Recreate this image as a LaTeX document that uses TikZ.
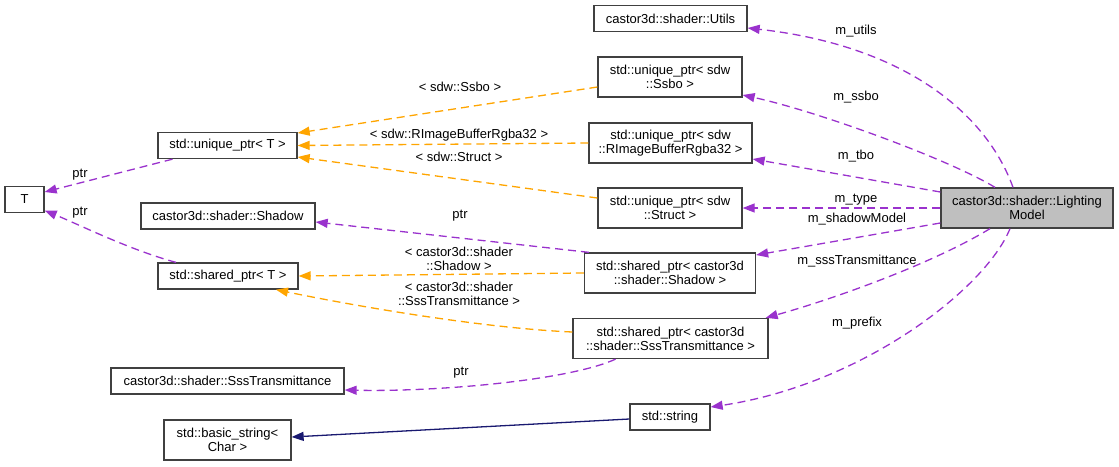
\documentclass[tikz,border=0pt]{standalone}
\usepackage{fontspec}
\setmainfont{Liberation Sans}
\usetikzlibrary{arrows.meta}
\definecolor{edgepurple}{HTML}{9A32CD}
\definecolor{edgeorange}{HTML}{FFA500}
\definecolor{edgenavy}{HTML}{191970}
\definecolor{boxline}{HTML}{404040}
\definecolor{lmfill}{HTML}{BFBFBF}
\begin{document}
\begin{tikzpicture}[x=1pt,y=-1pt,
  font=\fontsize{13}{14}\selectfont,
  cls/.style={draw=boxline, line width=1.3pt, inner sep=0pt, align=center, minimum height=26pt},
  twoline/.style={cls, minimum height=40pt},
  tip/.style={-{Triangle[length=12pt,width=9pt]}},
  pedge/.style={draw=edgepurple, line width=1.3pt, dash pattern=on 8pt off 5pt, tip},
  oedge/.style={draw=edgeorange, line width=1.3pt, dash pattern=on 8pt off 5pt, tip},
  nedge/.style={draw=edgenavy, line width=1.3pt, tip},
  lbl/.style={inner sep=0pt, align=center}]
\useasboundingbox (0,0) rectangle (1119,466);

% nodes
\node[cls, minimum width=153pt] (utils) at (670.5,18.5) {castor3d::shader::Utils};
\node[twoline, minimum width=144pt] (ssbo) at (670,77) {std::unique\_ptr< sdw\\::Ssbo >};
\node[twoline, minimum width=163pt] (rimage) at (670.5,143) {std::unique\_ptr< sdw\\::RImageBufferRgba32 >};
\node[twoline, minimum width=144pt] (struct) at (670,208) {std::unique\_ptr< sdw\\::Struct >};
\node[twoline, minimum width=172pt, fill=lmfill] (lm) at (1027,208) {castor3d::shader::Lighting\\Model};
\node[cls, minimum width=139pt] (uT) at (227.5,145.5) {std::unique\_ptr< T >};
\node[cls, minimum width=39pt] (T) at (24.5,199.5) {T};
\node[cls, minimum width=174pt] (shadow) at (228,216) {castor3d::shader::Shadow};
\node[cls, minimum width=140pt] (sT) at (228,276) {std::shared\_ptr< T >};
\node[twoline, minimum width=171pt] (spShadow) at (670,273) {std::shared\_ptr< castor3d\\::shader::Shadow >};
\node[twoline, minimum width=195pt] (spSss) at (670.5,338.5) {std::shared\_ptr< castor3d\\::shader::SssTransmittance >};
\node[cls, minimum width=233pt] (sss) at (227.5,381) {castor3d::shader::SssTransmittance};
\node[cls, minimum width=80pt] (string) at (670,417) {std::string};
\node[twoline, minimum width=127pt] (basic) at (227.5,440) {std::basic\_string<\\Char >};

% purple edges from LightingModel
\draw[pedge] ([xshift=-14pt]lm.north) .. controls (985,110) and (900,45) .. ([yshift=-9.5pt]utils.east);
\draw[pedge] ([xshift=-32pt]lm.north) .. controls (950,160) and (820,112) .. ([yshift=-18pt]ssbo.east);
\draw[pedge] ([yshift=16pt]lm.west) -- ([yshift=-16pt]rimage.east);
\draw[pedge] (lm.west) -- (struct.east);
\draw[pedge] ([yshift=-15pt]lm.west) -- ([yshift=18pt]spShadow.east);
\draw[pedge] ([xshift=-37pt]lm.south) .. controls (930,265) and (830,300) .. ([xshift=-3pt]spSss.north east);
\draw[pedge] ([xshift=-17pt]lm.south) .. controls (985,290) and (860,385) .. ([yshift=10pt]string.east);

% orange template edges
\draw[oedge] ([yshift=-10pt]ssbo.west) -- ([yshift=12.5pt]uT.east);
\draw[oedge] (rimage.west) -- (uT.east);
\draw[oedge] ([yshift=10pt]struct.west) -- ([yshift=-11.5pt]uT.east);
\draw[oedge] (spShadow.west) -- (sT.east);
\draw[oedge] ([yshift=6.5pt]spSss.west) .. controls (480,328) and (350,305) .. ([xshift=48pt]sT.south);

% purple edges on the left
\draw[pedge] ([xshift=-55pt]uT.south) -- ([yshift=7.5pt]T.east);
\draw[pedge] ([xshift=-52pt]sT.north) .. controls (130,250) and (80,225) .. ([yshift=-11pt]T.east);
\draw[pedge] ([xshift=5pt]spShadow.north west) -- ([yshift=-6pt]shadow.east);
\draw[pedge] ([xshift=-55pt]spSss.south) .. controls (570,380) and (440,392) .. ([yshift=-9pt]sss.east);

% inheritance
\draw[nedge] ([yshift=-2pt]string.west) -- ([yshift=3pt]basic.east);

% labels
\node[lbl] (lutils) at (856,31) {m\_utils};
\node[lbl] (lssbo) at (856,97) {m\_ssbo};
\node[lbl] (ltbo) at (856,156) {m\_tbo};
\node[lbl] (ltype) at (856,200) {m\_type};
\node[lbl] (lshadow) at (857,219) {m\_shadowModel};
\node[lbl] (lsss) at (857,261) {m\_sssTransmittance};
\node[lbl] (lprefix) at (857,323) {m\_prefix};
\node[lbl] (lptra) at (80,175) {ptr};
\node[lbl] (lptrb) at (80,213) {ptr};
\node[lbl] (lptrc) at (460,216) {ptr};
\node[lbl] (lptrd) at (461,373) {ptr};
\node[lbl] (lssboT) at (460,87) {< sdw::Ssbo >};
\node[lbl] (lrimT) at (459,135) {< sdw::RImageBufferRgba32 >};
\node[lbl] (lstructT) at (459,157) {< sdw::Struct >};
\node[lbl] (lshadowT) at (459,259) {< castor3d::shader\\::Shadow >};
\node[lbl] (lsssT) at (459,294) {< castor3d::shader\\::SssTransmittance >};
\end{tikzpicture}
\end{document}
